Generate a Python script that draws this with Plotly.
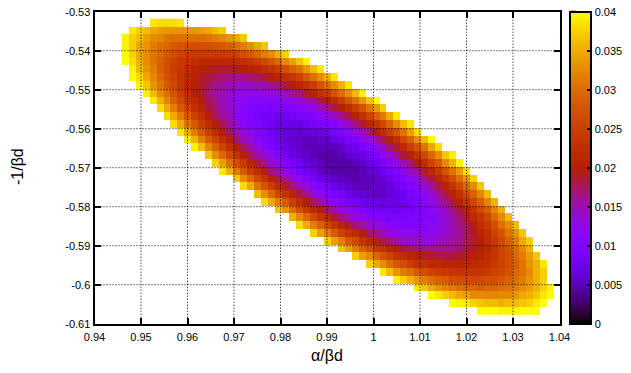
import numpy as np
import plotly.graph_objects as go

# ---- data -------------------------------------------------------------
# cell centres of the scan grid
alpha_bd = [0.9466, 0.9481, 0.9496, 0.9511, 0.9526, 0.9541, 0.9556, 0.9571, 0.9586, 0.9601,
            0.9616, 0.9631, 0.9646, 0.9661, 0.9676, 0.9691, 0.9706, 0.9721, 0.9736, 0.9751,
            0.9766, 0.9781, 0.9796, 0.9811, 0.9826, 0.9841, 0.9856, 0.9871, 0.9886, 0.9901,
            0.9916, 0.9931, 0.9946, 0.9961, 0.9976, 0.9991, 1.0006, 1.0021, 1.0036, 1.0051,
            1.0066, 1.0081, 1.0096, 1.0111, 1.0126, 1.0141, 1.0156, 1.0171, 1.0186, 1.0201,
            1.0216, 1.0231, 1.0246, 1.0261, 1.0276, 1.0291, 1.0306, 1.0321, 1.0336, 1.0351,
            1.0366, 1.0381]
inv_bd = [-0.5328, -0.5348, -0.5368, -0.5388, -0.5408, -0.5428, -0.5448, -0.5468, -0.5488, -0.5508,
          -0.5528, -0.5548, -0.5568, -0.5588, -0.5608, -0.5628, -0.5648, -0.5668, -0.5688, -0.5708,
          -0.5728, -0.5748, -0.5768, -0.5788, -0.5808, -0.5828, -0.5848, -0.5868, -0.5888, -0.5908,
          -0.5928, -0.5948, -0.5968, -0.5988, -0.6008, -0.6028, -0.6048, -0.6068]

# each row: first filled column, then one level character per filled cell
# level char index i  ->  value i * 0.04 / 61 ; cells outside the run are empty
LEVELS = '0123456789ABCDEFGHIJKLMNOPQRSTUVWXYZabcdefghijklmnopqrstuvwxyz'
LEVEL_STEP = 0.04 / 61
rows = [
    (4, 'xwwwx'),
    (1, 'xvtrqpppppqrtv'),
    (0, 'yvtqonlkkkkklmnpru'),
    (0, 'yvrpmkjhgffffghikmoru'),
    (0, 'zvroljhfdcbbbbbcdfhjmosv'),
    (0, 'zwsolifdbaYXXXXXYZacehjnquy'),
    (1, 'ytpmifcaYWVUTTTTUVWYacfilptx'),
    (1, 'zwrnjgdaXVTSRQPPPQRSUWYadhkosx'),
    (2, 'yuplheaXVTRPONMMMNNPQSUWZcgkosx'),
    (3, 'ytokgcYVTQONLKKJJKKLNOQTVZcgkoty'),
    (4, 'xsnieaXURPMLJIHHHHHIKLNPSVYcgkpuz'),
    (5, 'wrmhdZWSQNLJHGFFEFFGHIKMPSVYcglqv'),
    (6, 'wrmhdZVROMJHGEDDCCDEFGIKMPSVZdimrx'),
    (7, 'wrlhcYUROLIGFDCBBBBCDEFHKMPTWaejotx'),
    (8, 'xrmhcYUQNKIGECBAA9AABCEFIKNQUYcglqw'),
    (9, 'xsmhdYUQNKHFDCA998899BCEGILORVZeiotz'),
    (10, 'ytnidZVRNKHFDBA9888889BCEHJMQTXcglrw'),
    (12, 'uojeaVROLIFDBA9877789ABDFILOSVaejouy'),
    (13, 'vqkfbWSPLJGECA98777789BCEHKNQUYdhnsy'),
    (14, 'xsmhcYUQNKHECB98777789ACEGJMPTXbglqw'),
    (16, 'uojeaVSOLIGDBA9887889ACEGILPSWafkpv'),
    (17, 'wrlgcXTQNKHFDBA988899ACEGILOSVaejou'),
    (19, 'tojeaWSPLJGEDBAA999ABCEGILOSVZeint'),
    (20, 'wrmhcYUROLIGEDCBBABBCDFHJMPSVZeins'),
    (22, 'upkfbXUQNLIHFEDCCCDDEGIKMPSWaeins'),
    (24, 'snjeaXTQNLJHGFEEEEFGHJLNQTXaejot'),
    (25, 'wrmieaWTQOMKJHHGGGHIJLNPRUYbfkot'),
    (27, 'vqmhdaXURPNLKJJJJJKLNORTWZdglpu'),
    (29, 'vqmheaXVSQPNMMLLMNOPRTVYbeimrv'),
    (31, 'uqmifbZWUSRQPPPPPQSTVXadgkos'),
    (33, 'vqnjgdaYWVTTSSSTTVWYadfjmqu'),
    (35, 'vrokhfcaZXXWWWWXYZbdfilpsx'),
    (37, 'xtpmkhfdcbaaaaabdegjlosv'),
    (39, 'yvspmkihffeeeffhikmpsv'),
    (42, 'xurpnmkjjijjklmoqsvy'),
    (44, 'zxvtrqoonnooprsuxz'),
    (47, 'zyxvuttsttuvxz'),
    (51, 'zzzyyyzzz'),
]

x_ticks = [0.94, 0.95, 0.96, 0.97, 0.98, 0.99, 1.0, 1.01, 1.02, 1.03, 1.04]
x_text = ['0.94', '0.95', '0.96', '0.97', '0.98', '0.99', '1', '1.01', '1.02', '1.03', '1.04']
y_ticks = [-0.53, -0.54, -0.55, -0.56, -0.57, -0.58, -0.59, -0.6, -0.61]
y_text = ['-0.53', '-0.54', '-0.55', '-0.56', '-0.57', '-0.58', '-0.59', '-0.6', '-0.61']
cb_ticks = [0, 0.005, 0.01, 0.015, 0.02, 0.025, 0.03, 0.035, 0.04]
cb_text = ['0', '0.005', '0.01', '0.015', '0.02', '0.025', '0.03', '0.035', '0.04']

# ---- decode the grid ---------------------------------------------------
z = []
for start, run in rows:
    line = [None] * len(alpha_bd)
    for i, ch in enumerate(run):
        line[start + i] = LEVELS.index(ch) * LEVEL_STEP
    z.append(line)

# gnuplot default palette (rgbformulae 7,5,15)
def gnuplot_rgb(t):
    r = np.sqrt(t)
    g = t ** 3
    b = max(0.0, np.sin(2 * np.pi * t))
    return 'rgb(%d,%d,%d)' % (round(255 * r), round(255 * g), round(255 * b))

colorscale = [[t, gnuplot_rgb(t)] for t in np.linspace(0, 1, 41)]

# ---- layout geometry ----------------------------------------------------
W, H = 631, 373
xd = [94.5 / W, 559.5 / W]
yd = [1 - 323.7 / H, 1 - 11.7 / H]
FONT = 'Liberation Sans, Arial, sans-serif'

fig = go.Figure(go.Heatmap(
    x=alpha_bd, y=inv_bd, z=z, colorscale=colorscale, zmin=0, zmax=0.04,
    hoverongaps=False,
    colorbar=dict(x=570 / W, xanchor='left', xpad=0, ypad=0, thickness=21,
                  len=yd[1] - yd[0], y=(yd[0] + yd[1]) / 2, yanchor='middle',
                  outlinewidth=2, outlinecolor='black', ticks='inside', ticklen=5,
                  tickwidth=2, tickcolor='black', tickvals=cb_ticks, ticktext=cb_text,
                  tickfont=dict(size=11, family=FONT, color='black')),
))

shapes = []
grid_line = dict(color='black', width=1, dash='1px,2px')
for t in x_ticks[1:-1]:
    shapes.append(dict(type='line', xref='x', yref='y', x0=t, x1=t,
                       y0=y_ticks[-1], y1=y_ticks[0], layer='above', line=grid_line))
for t in y_ticks[1:-1]:
    shapes.append(dict(type='line', xref='x', yref='y', x0=x_ticks[0], x1=x_ticks[-1],
                       y0=t, y1=t, layer='above', line=grid_line))
# tick marks on the left edge of the colour box
for t in cb_ticks:
    yy = yd[0] + t / 0.04 * (yd[1] - yd[0])
    shapes.append(dict(type='line', xref='paper', yref='paper', x0=571 / W, x1=576 / W,
                       y0=yy, y1=yy, line=dict(color='black', width=2)))

axis_common = dict(ticks='inside', ticklen=6, tickwidth=2, tickcolor='black',
                   showline=True, linewidth=2, linecolor='black', mirror='ticks',
                   showgrid=False, zeroline=False, automargin=False,
                   tickfont=dict(size=11, family=FONT, color='black'))

fig.update_layout(
    width=W, height=H, margin=dict(l=0, r=0, t=0, b=0, autoexpand=False),
    paper_bgcolor='white', plot_bgcolor='white',
    xaxis=dict(domain=xd, range=[x_ticks[0], x_ticks[-1]], tickvals=x_ticks,
               ticktext=x_text, ticklabelstandoff=2, **axis_common),
    yaxis=dict(domain=yd, range=[y_ticks[-1], y_ticks[0]], tickvals=y_ticks,
               ticktext=y_text, ticklabelstandoff=0, **axis_common),
    shapes=shapes,
    annotations=[
        dict(text='α/βd', xref='paper', yref='paper', x=(xd[0] + xd[1]) / 2, y=1 - 355 / H,
             xanchor='center', yanchor='middle', showarrow=False,
             font=dict(size=16, family=FONT, color='black')),
        dict(text='-1/βd', xref='paper', yref='paper', x=17 / W, y=1 - 167 / H,
             xanchor='center', yanchor='middle', textangle=-90, showarrow=False,
             font=dict(size=16, family=FONT, color='black')),
    ],
)

fig.write_html('out.html')
